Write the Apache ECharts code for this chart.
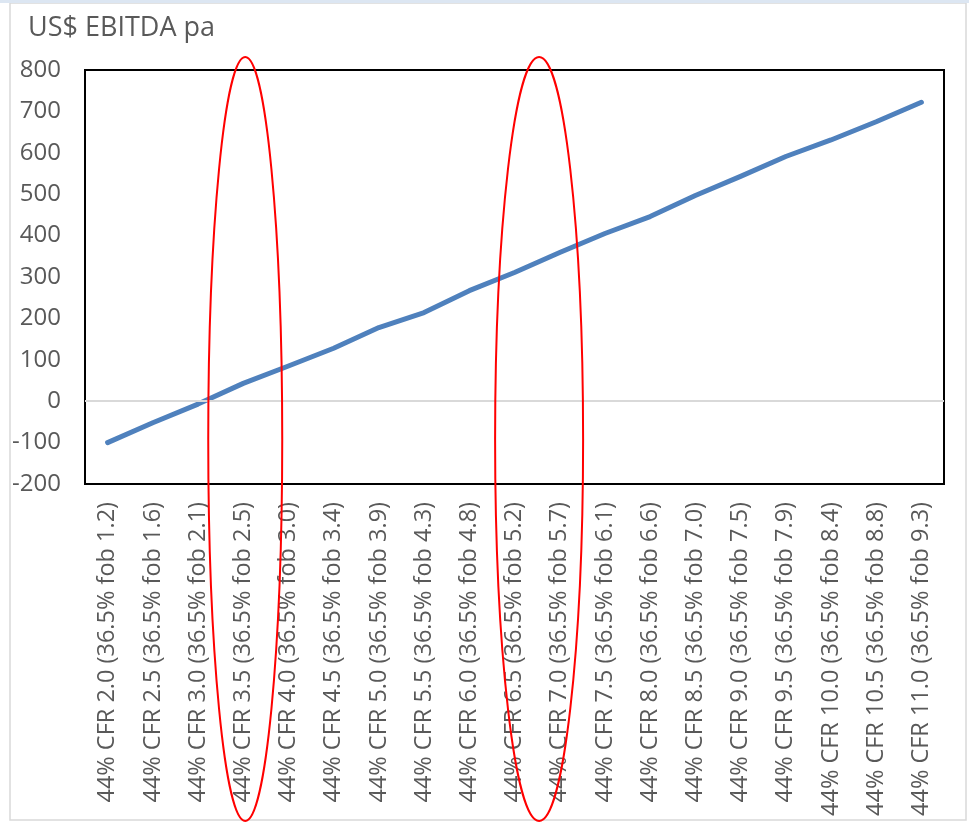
<!DOCTYPE html>
<html>
<head>
<meta charset="utf-8">
<title>US$ EBITDA pa</title>
<script src="https://cdn.jsdelivr.net/npm/echarts@6/dist/echarts.min.js"></script>
<style>
  html, body { margin: 0; padding: 0; background: #fff; }
  #chart { width: 969px; height: 822px; }
</style>
</head>
<body>
<div id="chart"></div>
<script>
// CFR price scenarios (44% grade) with the matching 36.5% fob price
const categories = [
  '44% CFR 2.0 (36.5% fob 1.2)',
  '44% CFR 2.5 (36.5% fob 1.6)',
  '44% CFR 3.0 (36.5% fob 2.1)',
  '44% CFR 3.5 (36.5% fob 2.5)',
  '44% CFR 4.0 (36.5% fob 3.0)',
  '44% CFR 4.5 (36.5% fob 3.4)',
  '44% CFR 5.0 (36.5% fob 3.9)',
  '44% CFR 5.5 (36.5% fob 4.3)',
  '44% CFR 6.0 (36.5% fob 4.8)',
  '44% CFR 6.5 (36.5% fob 5.2)',
  '44% CFR 7.0 (36.5% fob 5.7)',
  '44% CFR 7.5 (36.5% fob 6.1)',
  '44% CFR 8.0 (36.5% fob 6.6)',
  '44% CFR 8.5 (36.5% fob 7.0)',
  '44% CFR 9.0 (36.5% fob 7.5)',
  '44% CFR 9.5 (36.5% fob 7.9)',
  '44% CFR 10.0 (36.5% fob 8.4)',
  '44% CFR 10.5 (36.5% fob 8.8)',
  '44% CFR 11.0 (36.5% fob 9.3)'
];

// EBITDA per annum, US$
const ebitda = [-100, -52, -7, 43, 85, 128, 178, 214, 267, 311, 359, 405, 446, 497, 543, 591, 631, 675, 722];

// value axis range
const yMin = -200;
const yMax = 800;
const yStep = 100;

// highlighted scenarios: category positions the red rings are centred on
// (a half step sits between two neighbouring scenarios)
const highlightPositions = [3, 9.5];

const FONT = '"Open Sans", "Noto Sans", sans-serif';
const TEXT_COLOR = '#595959';

const chart = echarts.init(document.getElementById('chart'), null, { renderer: 'canvas' });

chart.setOption({
  animation: false,
  backgroundColor: '#ffffff',
  title: {
    text: 'US$ EBITDA pa',
    left: 23,
    top: 10,
    textStyle: { fontFamily: FONT, fontSize: 27, fontWeight: 'normal', color: TEXT_COLOR }
  },
  grid: {
    left: 85, right: 25, top: 70, bottom: 338,
    show: true, borderColor: '#000000', borderWidth: 2, backgroundColor: 'transparent'
  },
  xAxis: {
    type: 'category',
    data: categories,
    boundaryGap: true,
    axisLine: { show: false },
    axisTick: { show: false },
    axisLabel: {
      interval: 0,
      rotate: 90,
      margin: 18,
      fontFamily: FONT,
      fontSize: 23.5,
      color: TEXT_COLOR
    }
  },
  yAxis: {
    type: 'value',
    min: yMin,
    max: yMax,
    interval: yStep,
    axisLine: { show: false },
    axisTick: { show: false },
    splitLine: { show: false },
    axisLabel: { margin: 24, fontFamily: FONT, fontSize: 24, color: TEXT_COLOR }
  },
  series: [{
    type: 'line',
    data: ebitda,
    symbol: 'none',
    lineStyle: { color: '#4f81bd', width: 5, cap: 'round', join: 'round' },
    markLine: {
      silent: true,
      symbol: 'none',
      label: { show: false },
      lineStyle: { color: '#d9d9d9', width: 2, type: 'solid' },
      data: [{ yAxis: 0 }]
    },
    z: 3
  }]
});

// pixel x of a (possibly fractional) category position
function categoryX(pos) {
  const lo = Math.floor(pos);
  const hi = Math.ceil(pos);
  const xLo = chart.convertToPixel({ xAxisIndex: 0 }, lo);
  const xHi = chart.convertToPixel({ xAxisIndex: 0 }, hi);
  return xLo + (xHi - xLo) * (pos - lo);
}

// red rings around the highlighted scenarios
const rings = highlightPositions.map(function (pos, i) {
  return {
    type: 'ellipse',
    shape: { cx: categoryX(pos) + 2, cy: 439, rx: i === 0 ? 37 : 44, ry: 382 },
    style: { fill: 'none', stroke: '#ff0000', lineWidth: 2 },
    z: 100
  };
});

chart.setOption({
  graphic: [
    {
      type: 'rect',
      shape: { x: 10, y: 3, width: 956, height: 817 },
      style: { fill: 'none', stroke: '#d9d9d9', lineWidth: 1.5 },
      silent: true, z: 0
    },
    {
      type: 'rect',
      shape: { x: 0, y: 0, width: 969, height: 3 },
      style: { fill: '#dce6f2' },
      silent: true, z: 0
    }
  ].concat(rings)
});
</script>
</body>
</html>
